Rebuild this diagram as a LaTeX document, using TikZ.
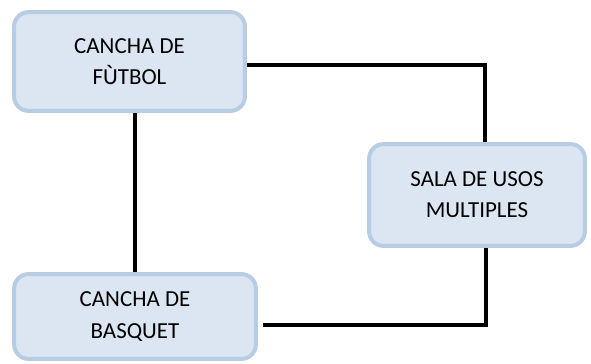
\documentclass[tikz,border=0pt]{standalone}
\usepackage{fontspec}
\setmainfont{Carlito}
\usepackage{tikz}
\usetikzlibrary{positioning,calc}
\definecolor{boxfill}{RGB}{220,230,242}
\definecolor{boxedge}{RGB}{184,204,228}

\begin{document}
\begin{tikzpicture}[x=0.0265cm, y=-0.0265cm,
    every node/.style={font=\fontsize{17.3}{23.5}\selectfont},
    area/.style={draw=boxedge, fill=boxfill, line width=3pt, rounded corners=11pt,
                 align=center, inner sep=0pt},
    link/.style={draw=black, line width=2.3pt}]
  \useasboundingbox (0,0) rectangle (591,364);
  % the three areas
  \node[area, minimum width=6.12cm, minimum height=2.62cm] (futbol) at (129.5,61.5) {CANCHA DE\\F\`UTBOL};
  \node[area, minimum width=6.41cm, minimum height=2.25cm] (basquet) at (135,316.5) {CANCHA DE\\BASQUET};
  \node[area, minimum width=5.72cm, minimum height=2.70cm] (sala) at (477,195) {SALA DE USOS\\MULTIPLES};
  % connections
  \draw[link] (basquet.north) -- (basquet.north |- futbol.south);
  \draw[link] ($(futbol.east)+(0,3.5)$) -| ($(sala.north)+(8,0)$);
  \draw[link] ($(sala.south)+(9,0)$) |- ($(basquet.east)+(5,8.5)$);
\end{tikzpicture}
\end{document}
